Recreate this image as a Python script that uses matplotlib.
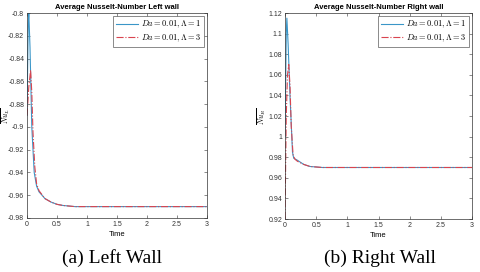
import matplotlib
matplotlib.use("Agg")
import matplotlib.pyplot as plt
import numpy as np

plt.rcParams['mathtext.fontset'] = 'cm'
plt.rcParams['font.family'] = ['Liberation Sans', 'DejaVu Sans']

# Data
t_left1 = [0.0, 0.02, 0.03, 0.05, 0.08, 0.12, 0.16, 0.2, 0.3, 0.4, 0.5, 0.6, 0.7, 0.8, 1.0, 1.5, 2.0, 2.5, 3.0]
nu_left1 = [-0.89, -0.81, -0.80, -0.83, -0.90, -0.94, -0.952, -0.957, -0.963, -0.966, -0.968, -0.969, -0.9695, -0.97, -0.97, -0.97, -0.97, -0.97, -0.97]
t_left3 = [0.0, 0.03, 0.06, 0.08, 0.1, 0.13, 0.16, 0.2, 0.3, 0.4, 0.5, 0.6, 0.7, 0.8, 1.0, 1.5, 2.0, 2.5, 3.0]
nu_left3 = [-0.89, -0.865, -0.85, -0.87, -0.905, -0.935, -0.95, -0.956, -0.963, -0.966, -0.968, -0.969, -0.9695, -0.97, -0.97, -0.97, -0.97, -0.97, -0.97]

t_right1 = [0.0, 0.02, 0.03, 0.05, 0.08, 0.12, 0.14, 0.2, 0.3, 0.4, 0.5, 0.6, 0.8, 1.0, 1.5, 2.0, 2.5, 3.0]
nu_right1 = [1.0, 1.10, 1.115, 1.09, 1.04, 0.985, 0.979, 0.977, 0.973, 0.971, 0.9705, 0.97, 0.97, 0.97, 0.97, 0.97, 0.97, 0.97]
t_right3 = [0.0, 0.02, 0.04, 0.06, 0.08, 0.1, 0.13, 0.16, 0.2, 0.3, 0.4, 0.5, 0.6, 0.8, 1.0, 1.5, 2.0, 2.5, 3.0]
nu_right3 = [0.92, 1.02, 1.06, 1.07, 1.05, 1.01, 0.982, 0.978, 0.976, 0.973, 0.971, 0.9705, 0.97, 0.97, 0.97, 0.97, 0.97, 0.97, 0.97]

labels = [r'$Da=0.01,\Lambda=1$', r'$Da=0.01,\Lambda=3$']
xticks = [0, 0.5, 1, 1.5, 2, 2.5, 3]
xticklabels = ['0', '0.5', '1', '1.5', '2', '2.5', '3']
yticks_left = [-0.98, -0.96, -0.94, -0.92, -0.9, -0.88, -0.86, -0.84, -0.82, -0.8]
yticks_right = [0.92, 0.94, 0.96, 0.98, 1.0, 1.02, 1.04, 1.06, 1.08, 1.1, 1.12]

blue = '#3a96c8'
red = '#d9444f'

fig = plt.figure(figsize=(4.8, 2.72), dpi=100)
axL = fig.add_axes([27/480, 1-218/272, 180/480, 205/272])
axR = fig.add_axes([285/480, 1-219/272, 187/480, 206/272])

def style(ax, yt, ylim, title, ylabel, ylx):
    ax.set_xlim(0, 3)
    ax.set_ylim(*ylim)
    ax.set_xticks(xticks)
    ax.set_xticklabels(xticklabels)
    ax.set_yticks(yt)
    ax.set_yticklabels([('%g' % v) for v in yt])
    ax.tick_params(labelsize=5, length=2, width=0.4, direction='in', top=True, right=True, pad=2, colors='#333333')
    for s in ax.spines.values():
        s.set_linewidth(0.5)
        s.set_color('#333333')
    ax.set_title(title, fontsize=5.5, fontweight='bold', pad=3)
    ax.set_xlabel('Time', fontsize=5.5, labelpad=2)
    ax.set_ylabel(ylabel, fontsize=5.5, va='center')
    ax.yaxis.set_label_coords(ylx, 0.5)
    leg = ax.legend(loc='upper right', fontsize=6, handlelength=2.6, frameon=True, fancybox=False,
                    edgecolor='#333333', borderpad=0.35, labelspacing=0.25, handletextpad=0.4,
                    borderaxespad=0.35)
    leg.get_frame().set_linewidth(0.5)

axL.plot(t_left1, nu_left1, color=blue, lw=0.8, label=labels[0])
axL.plot(t_left3, nu_left3, color=red, lw=0.8, ls='-.', label=labels[1])
style(axL, yticks_left, (-0.98, -0.8), 'Average Nusselt-Number Left wall', r'$\overline{Nu_L}$', -0.118)

axR.plot(t_right1, nu_right1, color=blue, lw=0.8, label=labels[0])
axR.plot(t_right3, nu_right3, color=red, lw=0.8, ls='-.', label=labels[1])
style(axR, yticks_right, (0.92, 1.12), 'Average Nusselt-Number Right wall', r'$\overline{Nu_R}$', -0.125)

fig.text(112/480, 1-258/272, '(a) Left Wall', fontsize=14, family='Liberation Serif', ha='center', va='center')
fig.text(380/480, 1-258/272, '(b) Right Wall', fontsize=14, family='Liberation Serif', ha='center', va='center')

fig.savefig('out.png', dpi=100)
